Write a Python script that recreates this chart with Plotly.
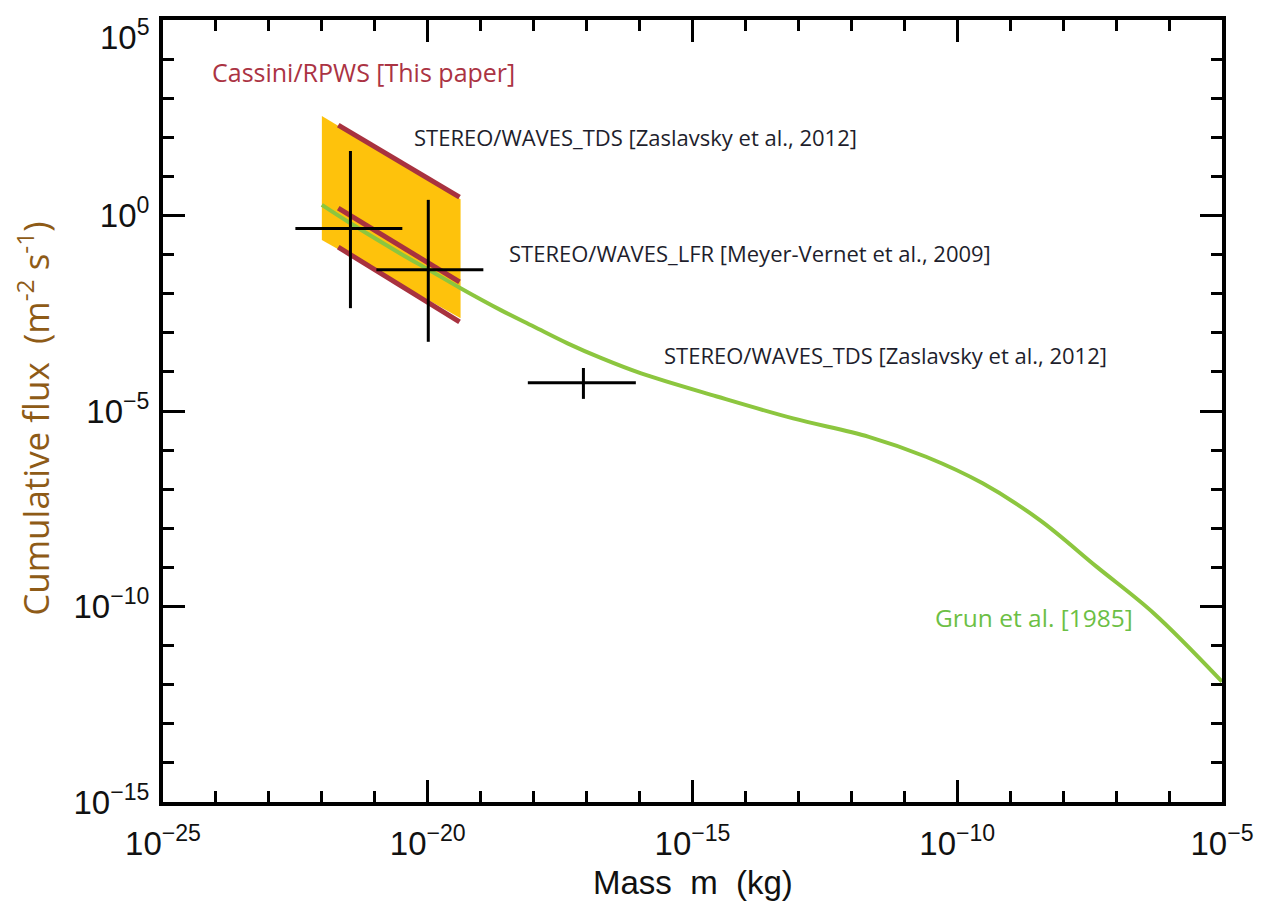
import plotly.graph_objects as go

# ---------------- data (log10 values) ----------------
# Grun et al. [1985] interplanetary flux model: log10 mass (kg), log10 cumulative flux
grun_logm = [-22.0, -21.46, -20.52, -19.98, -19.38, -18.62, -18.0, -17.36, -16.72,
             -15.97, -14.54, -13.10, -11.67, -10.59, -9.52, -8.44, -7.37, -6.29,
             -5.0]
grun_logf = [0.27, -0.20, -0.97, -1.39, -1.86, -2.42, -2.84, -3.27, -3.65,
             -4.04, -4.63, -5.19, -5.66, -6.17, -6.85, -7.79, -8.98, -10.17,
             -11.92]

# Cassini/RPWS shaded range (parallelogram corners)
band_logm = [-22.0, -19.38, -19.38, -22.0]
band_logf = [2.545, 0.414, -2.63, -0.627]

# Cassini/RPWS power-law lines (start/end)
cassini_logm = [-21.69, -19.40]
cassini_top = [2.31, 0.47]
cassini_mid = [0.19, -1.70]
cassini_bot = [-0.81, -2.72]

# STEREO measurements (crosses): centre, x-range, y-range (log10)
stereo_logm = [-21.46, -19.99, -17.06]
stereo_logf = [-0.33, -1.39, -4.28]
stereo_mlo = [-22.50, -20.97, -18.11]
stereo_mhi = [-20.48, -18.95, -16.07]
stereo_flo = [-2.37, -3.23, -4.69]
stereo_fhi = [1.65, 0.40, -3.90]

# label texts and their anchor positions (log10 space)
labels = ["Cassini/RPWS [This paper]",
          "STEREO/WAVES_TDS [Zaslavsky et al., 2012]",
          "STEREO/WAVES_LFR [Meyer-Vernet et al., 2009]",
          "STEREO/WAVES_TDS [Zaslavsky et al., 2012]",
          "Grun et al. [1985]"]
label_logm = [-24.12, -20.30, -18.50, -15.57, -10.46]
label_logf = [3.67, 2.0, -0.96, -3.57, -10.27]
label_colors = ["#ab3343", "#1e1e2c", "#1e1e2c", "#1e1e2c", "#6cbf45"]
label_sizes = [25, 22, 22, 22, 24.5]

x_tick_exp = [-25, -20, -15, -10, -5]
y_tick_exp = [5, 0, -5, -10, -15]

# ---------------- figure ----------------
p = lambda v: [10 ** e for e in v]

ORANGE = "#FEC20C"
RED = "#A8323F"
GREEN = "#8CC63F"

fig = go.Figure()

fig.add_trace(go.Scatter(x=p(band_logm), y=p(band_logf), fill="toself",
                         fillcolor=ORANGE, mode="none", hoverinfo="skip",
                         showlegend=False))

fig.add_trace(go.Scatter(x=p(grun_logm), y=p(grun_logf), mode="lines",
                         line=dict(color=GREEN, width=4, shape="spline", smoothing=1.0),
                         showlegend=False))

for ys in (cassini_top, cassini_mid, cassini_bot):
    fig.add_trace(go.Scatter(x=p(cassini_logm), y=p(ys), mode="lines",
                             line=dict(color=RED, width=5), showlegend=False))

cx, cy = [], []
for m, f, mlo, mhi, flo, fhi in zip(stereo_logm, stereo_logf, stereo_mlo,
                                    stereo_mhi, stereo_flo, stereo_fhi):
    cx += [10 ** mlo, 10 ** mhi, None, 10 ** m, 10 ** m, None]
    cy += [10 ** f, 10 ** f, None, 10 ** flo, 10 ** fhi, None]
fig.add_trace(go.Scatter(x=cx, y=cy, mode="lines",
                         line=dict(color="black", width=3), showlegend=False))

for t, lm, lf, c, s in zip(labels, label_logm, label_logf, label_colors, label_sizes):
    fig.add_annotation(x=lm, y=lf, xref="x", yref="y", text=t, showarrow=False,
                       xanchor="left", yanchor="middle",
                       font=dict(family="Open Sans", size=s, color=c))


def exp_label(e):
    sign = "\u2212" if e < 0 else ""
    return f"10<sup>{sign}{abs(e)}</sup>"


tickfont = dict(family="Liberation Sans", size=33, color="#111111")

fig.update_xaxes(type="log", range=[-25, -5],
                 tickvals=p(x_tick_exp),
                 ticktext=[exp_label(e) for e in x_tick_exp],
                 ticks="inside", ticklen=22, tickwidth=3, tickcolor="black",
                 minor=dict(ticks="inside", ticklen=11, tickwidth=3, tickcolor="black",
                            tickvals=[10 ** e for e in range(-25, -4)]),
                 showline=True, linewidth=4, linecolor="black", mirror="ticks",
                 showgrid=False, zeroline=False, tickfont=tickfont,
                 ticklabelstandoff=9, ticklabeloverflow="allow", automargin=False)

# the top y tick label sits lower than its tick in the reference (kept inside
# the figure), so it is drawn as a separate text; the others are axis labels
fig.update_yaxes(type="log", range=[-15, 5],
                 tickvals=p(y_tick_exp),
                 ticktext=["" if e == 5 else exp_label(e) for e in y_tick_exp],
                 ticks="inside", ticklen=22, tickwidth=3, tickcolor="black",
                 minor=dict(ticks="inside", ticklen=11, tickwidth=3, tickcolor="black",
                            tickvals=[10 ** e for e in range(-15, 6)]),
                 showline=True, linewidth=4, linecolor="black", mirror="ticks",
                 showgrid=False, zeroline=False, tickfont=tickfont,
                 ticklabelstandoff=3, ticklabeloverflow="allow", automargin=False)
fig.add_annotation(xref="paper", yref="paper", x=-0.0104, y=1.0102,
                   text=exp_label(y_tick_exp[0]), showarrow=False,
                   xanchor="right", yanchor="top", font=tickfont)

fig.add_annotation(xref="paper", yref="paper", x=-0.1218, y=0.49,
                   text="Cumulative flux  (m<sup>-2</sup> s<sup>-1</sup>)",
                   textangle=-90, showarrow=False, xanchor="center", yanchor="middle",
                   font=dict(family="Open Sans", size=35, color="#8E5B17"))
fig.add_annotation(xref="paper", yref="paper", x=0.5, y=-0.103,
                   text="Mass  m  (kg)", showarrow=False,
                   xanchor="center", yanchor="middle",
                   font=dict(family="Liberation Sans", size=33, color="#111111"))

fig.update_layout(width=1274, height=907, plot_bgcolor="white", paper_bgcolor="white",
                  margin=dict(l=155, r=60, t=12, b=113, autoexpand=False),
                  showlegend=False)

fig.write_html("out.html")
